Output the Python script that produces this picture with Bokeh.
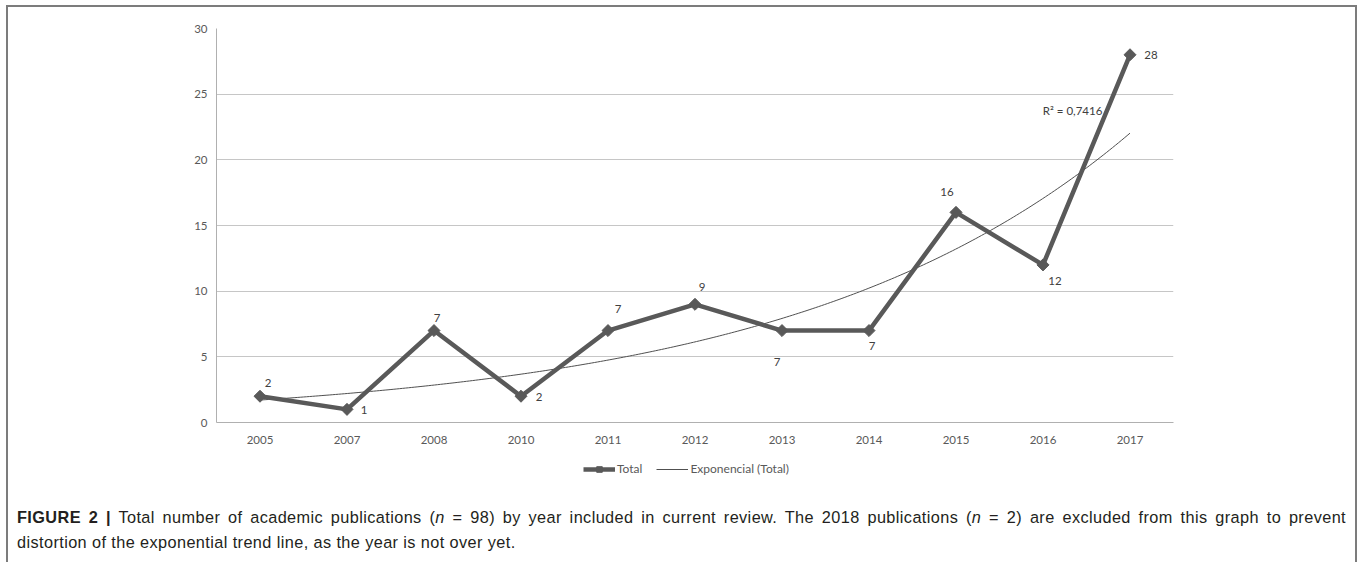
import numpy as np
from bokeh.plotting import figure
from bokeh.layouts import column
from bokeh.models import (Range1d, FixedTicker, Label, Legend, LegendItem,
                          ColumnDataSource, Div)
from bokeh.embed import file_html
from bokeh.resources import INLINE
from bokeh.core.properties import value

# ---- data ----
years = ["2005", "2007", "2008", "2010", "2011", "2012", "2013", "2014", "2015", "2016", "2017"]
totals = [2, 1, 7, 2, 7, 9, 7, 7, 16, 12, 28]
y_ticks = [0, 5, 10, 15, 20, 25, 30]
r2_text = "R² = 0,7416"
legend_labels = ["Total", "Exponencial (Total)"]
caption_bold = "FIGURE 2 |"
caption_line1 = ("Total number of academic publications (<i>n</i> = 98) by year included in current review. "
                 "The 2018 publications (<i>n</i> = 2) are excluded from this graph to prevent")
caption_line2 = "distortion of the exponential trend line, as the year is not over yet."

# label offsets in pixels (placement only)
label_dx = [8, 17, 3, 18, 10, 7, -5, 3, -9, 12, 21]
label_dy = [-13, 1, -13, 1, -22, -17, 31, 15, -20, 16, 0]

xi = np.arange(len(years))
# exponential trend line (least squares on log values, as Excel does)
slope, intercept = np.polyfit(xi, np.log(totals), 1)
xs = np.linspace(0, len(years) - 1, 300)
trend = np.exp(intercept + slope * xs)

src = ColumnDataSource(dict(x=xi, y=totals, lab=[str(v) for v in totals],
                            dx=label_dx, dy=label_dy))
tsrc = ColumnDataSource(dict(x=xs, y=trend))

FONT = "Lato"
DARK = "#595959"
BORDER = "#7c7c7c"
W = 1347


def draw_series(fig):
    t = fig.line("x", "y", source=tsrc, line_color="#505050", line_width=1)
    l = fig.line("x", "y", source=src, line_color=DARK, line_width=4.5, line_join="round")
    s = fig.scatter("x", "y", source=src, marker="square", angle=np.pi / 4, size=8.5,
                    fill_color=DARK, line_color=DARK)
    return t, l, s


# ---------------- chart ----------------
p = figure(width=W, height=448, output_backend="svg", toolbar_location=None,
           x_range=Range1d(-0.5, len(years) - 0.5), y_range=Range1d(0, 30),
           min_border_left=208, min_border_right=182, min_border_top=21,
           min_border_bottom=33)
p.outline_line_color = None
p.background_fill_color = "white"
p.border_fill_color = "white"

p.xgrid.grid_line_color = None
p.ygrid.grid_line_color = "#c6c6c6"
p.ygrid.grid_line_width = 1
p.ygrid.ticker = FixedTicker(ticks=y_ticks)

p.yaxis.ticker = FixedTicker(ticks=y_ticks)
p.yaxis.axis_line_color = "#b0b0b0"
p.yaxis.major_tick_line_color = None
p.yaxis.minor_tick_line_color = None
p.yaxis.major_tick_out = 0
p.yaxis.major_label_standoff = 9
p.yaxis.major_label_text_font = FONT
p.yaxis.major_label_text_font_size = "11.5px"
p.yaxis.major_label_text_color = DARK

p.xaxis.ticker = FixedTicker(ticks=list(xi))
p.xaxis.major_label_overrides = {int(i): y for i, y in zip(xi, years)}
p.xaxis.axis_line_color = "#b0b0b0"
p.xaxis.major_tick_line_color = None
p.xaxis.minor_tick_line_color = None
p.xaxis.major_tick_out = 0
p.xaxis.major_label_standoff = 13
p.xaxis.major_label_text_font = FONT
p.xaxis.major_label_text_font_size = "11.5px"
p.xaxis.major_label_text_color = DARK

draw_series(p)

p.text("x", "y", text="lab", source=src, x_offset="dx", y_offset="dy",
       text_align="center", text_baseline="middle", text_font=value(FONT),
       text_font_size="11.5px", text_color="#404040")

p.add_layout(Label(x=9.34, y=23.76, text=r2_text, text_align="center",
                   text_baseline="middle", text_font=FONT, text_font_size="11.5px",
                   text_color="#404040"))

# ---------------- legend strip ----------------
# same series drawn again, but the y range is set away from the data so only the
# legend keys show
LH = 30
c = figure(width=W, height=LH, output_backend="svg", toolbar_location=None,
           x_range=p.x_range, y_range=Range1d(-60, -59),
           x_axis_type=None, y_axis_type=None, min_border_left=208,
           min_border_right=182, min_border_top=0, min_border_bottom=0)
c.outline_line_color = None
c.xgrid.visible = False
c.ygrid.visible = False
c.background_fill_color = "white"
c.border_fill_color = "white"
k_trend, k_line, k_pts = draw_series(c)

legend = Legend(items=[LegendItem(label=legend_labels[0], renderers=[k_line, k_pts]),
                       LegendItem(label=legend_labels[1], renderers=[k_trend])],
                orientation="horizontal", location=(367, 9),
                border_line_color=None, background_fill_alpha=0,
                label_text_font=FONT, label_text_font_size="12px",
                label_text_color=DARK, glyph_width=32, glyph_height=14, spacing=14,
                padding=0, margin=0, label_standoff=2, label_height=14)
c.add_layout(legend)

# ---------------- caption ----------------
cap_html = (
    '<div style="font-family:\'Liberation Sans\',Arial,sans-serif;font-size:16.3px;'
    'letter-spacing:0.4px;color:#231f20;line-height:25px;padding-top:20px;padding-left:9px;">'
    '<div style="width:1329px;text-align:justify;text-align-last:justify;white-space:nowrap;">'
    f'<b>{caption_bold}</b> {caption_line1}</div>'
    f'<div>{caption_line2}</div></div>'
)
cap = Div(text=cap_html, width=W, height=77, margin=0)

layout = column(p, c, cap, spacing=0,
                styles={"border-left": f"2px solid {BORDER}",
                        "border-top": f"2px solid {BORDER}",
                        "border-right": f"2px solid {BORDER}",
                        "margin-left": "6px", "margin-top": "5px"})

open("out.html", "w").write(file_html(layout, INLINE))
